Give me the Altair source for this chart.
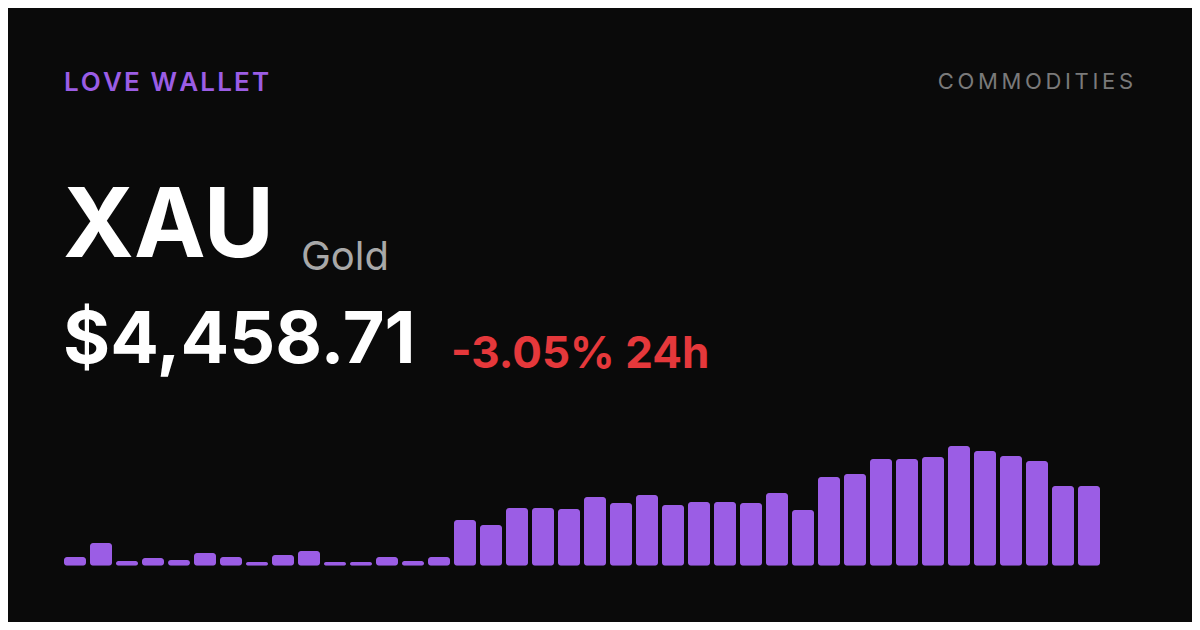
import altair as alt
import pandas as pd

# bar heights (arbitrary units, 0 = baseline)
bar_idx = list(range(40))
bar_vals = [8.7, 22.7, 4.7, 7.7, 5.7, 12.7, 8.7, 3.7, 10.7, 14.7,
            3.7, 3.7, 8.7, 4.7, 8.7, 45.7, 40.7, 57.7, 57.7, 56.7,
            68.7, 62.7, 70.7, 60.7, 63.7, 63.7, 62.7, 72.7, 55.7, 88.7,
            91.7, 106.7, 106.7, 108.7, 119.7, 114.7, 109.7, 104.7, 79.7, 79.7]

brand = "\u200a".join("LOVE WALLET")
category = "\u2006".join("COMMODITIES")
ticker = "XAU"
name = "Gold"
price = "$4,458.71"
change = "-3.05% 24h"

BG = "#0a0a0a"
PURPLE = "#9b5de5"

bars = pd.DataFrame({"i": bar_idx, "v": bar_vals})

spark = alt.Chart(bars).mark_bar(
    color=PURPLE, cornerRadius=3
).encode(
    alt.X("i:O").scale(range=[56, 1092], paddingInner=4 / 26, paddingOuter=0).axis(None),
    alt.Y("v:Q").scale(domain=[0, 120], range=[557.7, 437.7], nice=False, zero=True).axis(None),
)

def label(txt, x, y, size, color, weight="normal", align="left"):
    return alt.Chart(pd.DataFrame({"t": [txt]})).mark_text(
        align=align, baseline="alphabetic", font="Inter",
        fontSize=size, fontWeight=weight, color=color
    ).encode(x=alt.value(x), y=alt.value(y), text="t:N")

chart = alt.layer(
    spark,
    label(brand, 56, 82.5, 26, PURPLE, 600),
    label(category, 1125, 81, 22, "#7a7a7a", "normal", "right"),
    label(ticker, 55, 249, 96, "#ffffff", 700),
    label(name, 293, 262, 40, "#a8a8a8"),
    label(price, 55, 355, 72, "#ffffff", 700),
    label(change, 443, 360, 44, "#e5383b", 700),
).properties(
    width=1184, height=614,
    autosize=alt.AutoSizeParams(type="none"),
    padding=0,
    background=BG,
).configure_view(stroke=None)

chart.save("out.html", embed_options={"renderer": "svg", "actions": False})
